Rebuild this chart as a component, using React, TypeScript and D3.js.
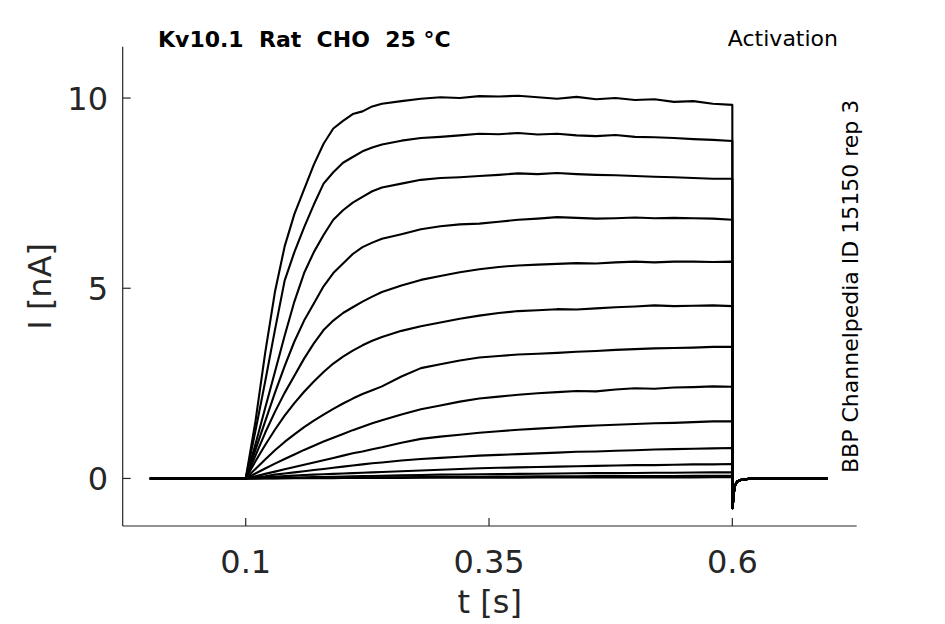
import React from "react";
import * as d3 from "d3";

// ---- data ----
const X_TICKS = [0.1, 0.35, 0.6];
const X_TICK_LABELS = ["0.1", "0.35", "0.6"];
const Y_TICKS = [0, 5, 10];
const Y_TICK_LABELS = ["0", "5", "10"];

const PRE_T = [0.0015];
const PRE_V = [0];

const STEP_T = [
  0.1, 0.11, 0.12, 0.13, 0.14, 0.15, 0.16, 0.17, 0.18, 0.19, 0.2, 0.21, 0.22, 0.23, 0.24,
  0.26, 0.28, 0.3, 0.32, 0.34, 0.36, 0.38, 0.4, 0.42, 0.44, 0.46, 0.48, 0.5, 0.52, 0.54,
  0.56, 0.58, 0.6,
];

const TAIL_T = [0.6003, 0.6012, 0.6025, 0.605, 0.61, 0.62, 0.698];
const TAIL_V = [-0.78, -0.45, -0.2, -0.08, -0.03, 0, 0];

const TRACE_1 = [0, 1.5, 3.3, 4.9, 6.1, 6.95, 7.6, 8.25, 8.8, 9.2, 9.4, 9.58, 9.65, 9.78, 9.85, 9.92, 9.98, 10.02, 10.0, 10.05, 10.04, 10.06, 10.02, 9.98, 10.03, 9.97, 10.0, 9.95, 9.97, 9.9, 9.92, 9.85, 9.82];
const TRACE_2 = [0, 1.25, 2.55, 3.9, 5.2, 5.95, 6.6, 7.2, 7.75, 8.05, 8.3, 8.45, 8.6, 8.7, 8.78, 8.88, 8.95, 8.98, 9.02, 9.06, 9.05, 9.08, 9.04, 9.06, 9.02, 9.0, 9.03, 8.98, 8.97, 8.95, 8.92, 8.9, 8.87];
const TRACE_3 = [0, 0.9, 1.85, 2.8, 3.75, 4.65, 5.4, 5.95, 6.4, 6.8, 7.05, 7.25, 7.4, 7.55, 7.65, 7.75, 7.85, 7.9, 7.92, 7.95, 7.98, 8.02, 8.0, 8.03, 8.0, 7.98, 7.97, 7.95, 7.93, 7.92, 7.9, 7.88, 7.88];
const TRACE_4 = [0, 0.75, 1.5, 2.25, 2.95, 3.6, 4.15, 4.6, 5.05, 5.4, 5.65, 5.9, 6.08, 6.2, 6.3, 6.42, 6.55, 6.63, 6.68, 6.7, 6.75, 6.8, 6.83, 6.87, 6.85, 6.83, 6.84, 6.86, 6.84, 6.85, 6.84, 6.83, 6.8];
const TRACE_5 = [0, 0.6, 1.2, 1.75, 2.25, 2.7, 3.15, 3.55, 3.9, 4.15, 4.35, 4.5, 4.65, 4.78, 4.9, 5.07, 5.22, 5.32, 5.42, 5.5, 5.56, 5.6, 5.62, 5.64, 5.66, 5.65, 5.68, 5.7, 5.68, 5.7, 5.7, 5.69, 5.7];
const TRACE_6 = [0, 0.45, 0.88, 1.28, 1.65, 1.98, 2.28, 2.55, 2.8, 3.02, 3.2, 3.36, 3.5, 3.62, 3.72, 3.88, 4.0, 4.1, 4.2, 4.28, 4.35, 4.4, 4.42, 4.45, 4.44, 4.47, 4.5, 4.52, 4.55, 4.53, 4.54, 4.55, 4.53];
const TRACE_7 = [0, 0.25, 0.5, 0.74, 0.96, 1.16, 1.35, 1.52, 1.68, 1.83, 1.97, 2.1, 2.22, 2.32, 2.42, 2.68, 2.9, 3.0, 3.1, 3.18, 3.22, 3.26, 3.28, 3.3, 3.33, 3.35, 3.38, 3.4, 3.42, 3.43, 3.44, 3.46, 3.46];
const TRACE_8 = [0, 0.13, 0.26, 0.39, 0.51, 0.63, 0.75, 0.86, 0.97, 1.07, 1.17, 1.27, 1.36, 1.45, 1.53, 1.68, 1.82, 1.92, 2.02, 2.1, 2.15, 2.2, 2.24, 2.27, 2.3, 2.29, 2.34, 2.37, 2.36, 2.39, 2.4, 2.42, 2.41];
const TRACE_9 = [0, 0.06, 0.12, 0.18, 0.24, 0.3, 0.36, 0.42, 0.48, 0.54, 0.6, 0.66, 0.71, 0.77, 0.82, 0.94, 1.04, 1.1, 1.15, 1.2, 1.24, 1.28, 1.31, 1.34, 1.37, 1.39, 1.41, 1.43, 1.45, 1.46, 1.48, 1.5, 1.5];
const TRACE_10 = [0, 0.03, 0.06, 0.1, 0.13, 0.16, 0.19, 0.22, 0.25, 0.28, 0.31, 0.34, 0.37, 0.4, 0.42, 0.47, 0.51, 0.54, 0.57, 0.6, 0.62, 0.64, 0.66, 0.68, 0.7, 0.71, 0.73, 0.74, 0.76, 0.77, 0.78, 0.79, 0.8];
const TRACE_11 = [0, 0.015, 0.03, 0.045, 0.06, 0.075, 0.09, 0.1, 0.11, 0.12, 0.13, 0.14, 0.15, 0.16, 0.17, 0.19, 0.21, 0.23, 0.25, 0.27, 0.28, 0.29, 0.3, 0.31, 0.32, 0.33, 0.34, 0.35, 0.35, 0.36, 0.37, 0.37, 0.38];
const TRACE_12 = [0, 0.005, 0.01, 0.015, 0.02, 0.025, 0.03, 0.035, 0.04, 0.045, 0.05, 0.055, 0.06, 0.065, 0.07, 0.08, 0.09, 0.1, 0.105, 0.11, 0.115, 0.12, 0.125, 0.13, 0.135, 0.14, 0.14, 0.145, 0.15, 0.15, 0.155, 0.16, 0.16];
const TRACE_13 = [0, 0.002, 0.004, 0.006, 0.008, 0.01, 0.012, 0.014, 0.016, 0.018, 0.02, 0.022, 0.024, 0.026, 0.028, 0.032, 0.036, 0.04, 0.043, 0.046, 0.049, 0.052, 0.054, 0.056, 0.058, 0.06, 0.062, 0.064, 0.065, 0.066, 0.068, 0.069, 0.07];
const TRACE_14 = [0, 0.001, 0.002, 0.003, 0.004, 0.005, 0.006, 0.007, 0.008, 0.009, 0.01, 0.011, 0.012, 0.013, 0.014, 0.016, 0.018, 0.019, 0.02, 0.021, 0.022, 0.023, 0.024, 0.025, 0.026, 0.026, 0.027, 0.028, 0.028, 0.029, 0.029, 0.03, 0.03];

const TRACES = [TRACE_1, TRACE_2, TRACE_3, TRACE_4, TRACE_5, TRACE_6, TRACE_7, TRACE_8, TRACE_9, TRACE_10, TRACE_11, TRACE_12, TRACE_13, TRACE_14];

const TITLE = "Kv10.1  Rat  CHO  25 °C";
const PROTOCOL = "Activation";
const SOURCE = "BBP Channelpedia ID 15150 rep 3";
const X_LABEL = "t [s]";
const Y_LABEL = "I [nA]";

// ---- layout ----
const W = 945;
const H = 624;
const AX_L = 122.7;
const AX_R = 856.7;
const AX_T = 46.7;
const AX_B = 526;
const TICK = 8;
const AXIS_COLOR = "#262626";
const FONT = "'DejaVu Sans', sans-serif";

export default function App() {
  const x = d3.scaleLinear().domain([-0.0264, 0.7278]).range([AX_L, AX_R]);
  const y = d3.scaleLinear().domain([-1.25, 11.35]).range([AX_B, AX_T]);
  const line = d3
    .line<[number, number]>()
    .x((d) => x(d[0]))
    .y((d) => y(d[1]));

  const paths = TRACES.map((vals) => {
    const pts: [number, number][] = [];
    PRE_T.forEach((t, i) => pts.push([t, PRE_V[i]]));
    STEP_T.forEach((t, i) => pts.push([t, vals[i]]));
    TAIL_T.forEach((t, i) => pts.push([t, TAIL_V[i]]));
    return line(pts) || "";
  });

  return (
    <svg
      width={W}
      height={H}
      viewBox={`0 0 ${W} ${H}`}
      style={{ position: "absolute", left: 0, top: 0, background: "#fff" }}
    >
      <rect x={0} y={0} width={W} height={H} fill="#fff" />
      {/* traces */}
      <g fill="none" stroke="#000" strokeWidth={2.1} strokeLinejoin="round">
        {paths.map((d, i) => (
          <path key={i} d={d} />
        ))}
      </g>
      {/* axes */}
      <g stroke={AXIS_COLOR} strokeWidth={1.2} fill="none">
        <line x1={AX_L} y1={AX_T} x2={AX_L} y2={AX_B} />
        <line x1={AX_L} y1={AX_B} x2={AX_R} y2={AX_B} />
        {X_TICKS.map((t) => (
          <line key={"xt" + t} x1={x(t)} x2={x(t)} y1={AX_B} y2={AX_B - TICK} />
        ))}
        {Y_TICKS.map((t) => (
          <line key={"yt" + t} x1={AX_L} x2={AX_L + TICK} y1={y(t)} y2={y(t)} />
        ))}
      </g>
      <g fontFamily={FONT} fontSize={32} fill={AXIS_COLOR}>
        {X_TICKS.map((t, i) => (
          <text key={"xl" + t} x={x(t)} y={573} textAnchor="middle">
            {X_TICK_LABELS[i]}
          </text>
        ))}
        {Y_TICKS.map((t, i) => (
          <text key={"yl" + t} x={108} y={y(t) + 12} textAnchor="end">
            {Y_TICK_LABELS[i]}
          </text>
        ))}
        <text x={(AX_L + AX_R) / 2} y={613} textAnchor="middle">
          {X_LABEL}
        </text>
        <text
          transform={`translate(51, ${(AX_T + AX_B) / 2}) rotate(-90)`}
          textAnchor="middle"
        >
          {Y_LABEL}
        </text>
      </g>
      <g fontFamily={FONT} fontSize={22} fill="#000">
        <text x={158} y={47} fontWeight="bold" style={{ whiteSpace: "pre" }}>
          {TITLE}
        </text>
        <text x={838} y={46} textAnchor="end">
          {PROTOCOL}
        </text>
        <text
          transform={`translate(858, ${(AX_T + AX_B) / 2}) rotate(-90)`}
          textAnchor="middle"
        >
          {SOURCE}
        </text>
      </g>
    </svg>
  );
}
